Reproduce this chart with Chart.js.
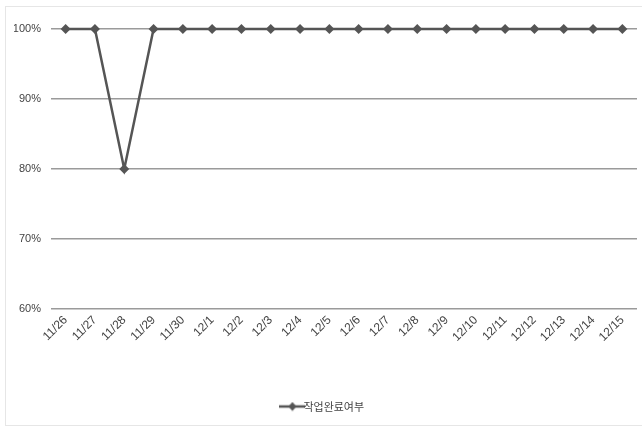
<!DOCTYPE html>
<html>
<head>
<meta charset="utf-8">
<script src="https://cdn.jsdelivr.net/npm/chart.js@4"></script>
<style>
  html, body { margin: 0; padding: 0; background: #fff; }
  #frame {
    position: absolute; left: 5px; top: 6px; width: 640px; height: 420px;
    border: 1px solid #e6e6e6; box-sizing: border-box;
  }
  #wrap { position: absolute; left: 0; top: 0; width: 642px; height: 428px; }
</style>
</head>
<body>
<div id="frame"></div>
<div id="wrap"><canvas id="chart" width="642" height="428"></canvas></div>
<script>
const dates = ['11/26', '11/27', '11/28', '11/29', '11/30', '12/1', '12/2', '12/3', '12/4', '12/5',
               '12/6', '12/7', '12/8', '12/9', '12/10', '12/11', '12/12', '12/13', '12/14', '12/15'];
const completion = [100, 100, 80, 100, 100, 100, 100, 100, 100, 100,
                    100, 100, 100, 100, 100, 100, 100, 100, 100, 100];
const seriesName = '작업완료여부';
const yTicks = [60, 70, 80, 90, 100];

const lineColor = '#555555';

// legend symbol: short line with a diamond in the middle
const legendIcon = document.createElement('canvas');
legendIcon.width = 26;
legendIcon.height = 10;
(function () {
  const c = legendIcon.getContext('2d');
  c.strokeStyle = lineColor;
  c.lineWidth = 2.5;
  c.beginPath();
  c.moveTo(0, 5);
  c.lineTo(26, 5);
  c.stroke();
  c.fillStyle = lineColor;
  c.beginPath();
  c.moveTo(13, 0.5);
  c.lineTo(17, 5);
  c.lineTo(13, 9.5);
  c.lineTo(9, 5);
  c.closePath();
  c.fill();
})();

const ctx = document.getElementById('chart').getContext('2d');
new Chart(ctx, {
  type: 'line',
  data: {
    labels: dates,
    datasets: [{
      label: seriesName,
      data: completion,
      borderColor: lineColor,
      backgroundColor: lineColor,
      borderWidth: 2.5,
      pointStyle: 'rectRot',
      pointRadius: 5,
      pointBorderWidth: 0,
      pointBackgroundColor: lineColor,
      tension: 0,
      clip: false
    }]
  },
  options: {
    responsive: false,
    animation: false,
    layout: { padding: { left: 14, right: 5, top: 29, bottom: 6 } },
    scales: {
      x: {
        offset: true,
        grid: { display: false, drawTicks: false },
        border: { display: false },
        afterFit: axis => {
          axis.height = 82;
          axis.paddingLeft = 0;
          axis.paddingRight = 0;
        },
        ticks: {
          color: '#444',
          font: { family: 'Liberation Sans', size: 12 },
          maxRotation: 45,
          minRotation: 45,
          autoSkip: false,
          padding: 4
        }
      },
      y: {
        min: 60,
        max: 100,
        afterBuildTicks: axis => { axis.ticks = yTicks.map(v => ({ value: v })); },
        afterFit: axis => { axis.width = 37; },
        grid: { color: '#9a9a9a', lineWidth: 1.4, drawTicks: false },
        border: { display: false },
        ticks: {
          color: '#444',
          font: { family: 'Liberation Sans', size: 11 },
          padding: 10,
          callback: v => v + '%'
        }
      }
    },
    plugins: {
      legend: {
        position: 'bottom',
        labels: {
          color: '#444',
          font: { family: 'Noto Sans CJK KR', size: 11 },
          usePointStyle: true,
          padding: 10,
          generateLabels: chart => chart.data.datasets.map((ds, i) => ({
            text: ds.label,
            pointStyle: legendIcon,
            fillStyle: lineColor,
            strokeStyle: lineColor,
            lineWidth: 0,
            datasetIndex: i,
            fontColor: '#444'
          }))
        }
      },
      tooltip: { enabled: false }
    }
  }
});
</script>
</body>
</html>
